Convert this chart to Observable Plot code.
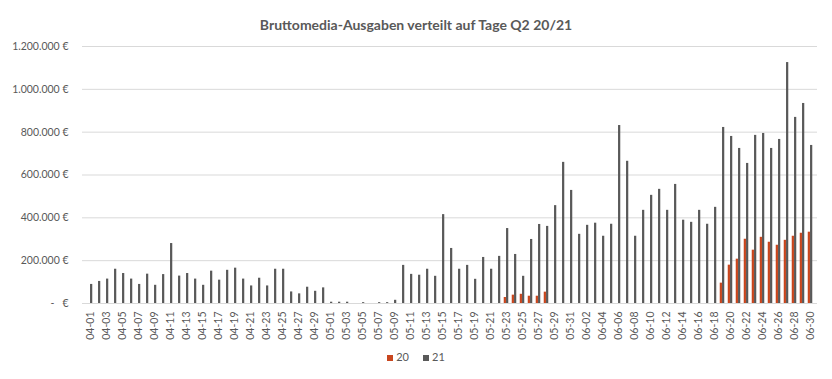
<!DOCTYPE html>
<html>
<head>
<meta charset="utf-8">
<script src="https://cdn.jsdelivr.net/npm/d3@7"></script>
<script src="https://cdn.jsdelivr.net/npm/@observablehq/plot@0.6"></script>
<style>
  body { margin: 0; background: #fff; font-family: Lato, "Open Sans", sans-serif; }
  #wrap { width: 832px; height: 379px; position: relative; overflow: hidden; }
  #title { height: 40px; line-height: 50px; text-align: center; font-weight: bold; font-size: 14px; color: #595959; }
  #legend { position: absolute; top: 350px; left: 0; width: 832px; text-align: center; font-size: 11px; color: #595959; }
  #legend span.sw { display: inline-block; width: 6px; height: 6px; margin-right: 3px; vertical-align: 0px; }
  #legend span.it { margin: 0 7px; }
</style>
</head>
<body>
<div id="wrap">
  <div id="title">Bruttomedia-Ausgaben verteilt auf Tage Q2 20/21</div>
  <div id="chart"></div>
  <div id="legend"></div>
</div>
<script>
const days = [];
for (const [m, n] of [["04", 30], ["05", 31], ["06", 30]]) {
  for (let d = 1; d <= n; d++) days.push(m + "-" + String(d).padStart(2, "0"));
}
const seriesNames = ["20", "21"];
const colors = ["#C8461E", "#595959"];

// 2021 values (April 1 .. June 30)
const values21 = [
  89000, 103000, 114000, 160000, 140000, 114000, 89000, 137000, 85000, 135000,
  280000, 128000, 140000, 114000, 85000, 151000, 109000, 155000, 165000, 114000,
  82000, 118000, 82000, 160000, 160000, 54000, 45000, 76000, 57000, 73000,
  6000, 6000, 6000, 0, 4000, 0, 4000, 4000, 15000, 178000,
  136000, 132000, 160000, 127000, 415000, 257000, 160000, 178000, 113000, 215000,
  160000, 220000, 350000, 229000, 127000, 299000, 369000, 360000, 457000, 659000,
  528000,
  323000, 365000, 375000, 314000, 370000, 831000, 664000, 314000, 435000, 505000,
  533000, 435000, 556000, 389000, 379000, 435000, 370000, 449000, 822000, 780000,
  724000, 654000, 785000, 794000, 724000, 766000, 1125000, 869000, 934000, 738000
];
// 2020 values (0 where no bar)
const values20 = days.map(() => 0);
const v20pairs = [
  ["05-23", 28000], ["05-24", 39000], ["05-25", 43000], ["05-26", 34000], ["05-27", 34000], ["05-28", 53000],
  ["06-19", 95000], ["06-20", 179000], ["06-21", 207000], ["06-22", 300000], ["06-23", 249000],
  ["06-24", 309000], ["06-25", 286000], ["06-26", 272000], ["06-27", 295000], ["06-28", 314000],
  ["06-29", 328000], ["06-30", 333000]
];
for (const [d, v] of v20pairs) values20[days.indexOf(d)] = v;

const yTicks = [0, 200000, 400000, 600000, 800000, 1000000, 1200000];
const xTickLabels = days.filter((d, i) => i % 2 === 0);

const data20 = days.map((d, i) => ({day: d, value: values20[i], series: "20"}));
const data21 = days.map((d, i) => ({day: d, value: values21[i], series: "21"}));

const fmt = v => v === 0 ? "-\u00a0\u00a0\u00a0€" : d3.format(",.0f")(v).replace(/,/g, ".") + " €";

const bw = 735 / 91;
const barW = 2.3;

const plot = Plot.plot({
  width: 832,
  height: 310,
  marginLeft: 82,
  marginRight: 15,
  marginTop: 6,
  marginBottom: 47,
  style: {fontFamily: "Lato, 'Open Sans', sans-serif", fontSize: "10.5px", color: "#595959", background: "#fff"},
  x: {type: "band", domain: days, padding: 0, label: null},
  y: {domain: [0, 1200000], label: null},
  marks: [
    Plot.ruleY(yTicks, {stroke: "#d9d9d9", strokeWidth: 1}),
    Plot.axisY({ticks: yTicks, tickFormat: fmt, tickSize: 0, tickPadding: 14, label: null, fill: "#595959"}),
    Plot.axisX({ticks: xTickLabels, tickSize: 0, tickPadding: 8, tickRotate: -90, label: null, fill: "#595959", fontSize: 10.5}),
    Plot.barY(data20, {x: "day", y: "value", fill: colors[0], insetLeft: bw / 2 - barW, insetRight: bw / 2}),
    Plot.barY(data21, {x: "day", y: "value", fill: colors[1], insetLeft: bw / 2, insetRight: bw / 2 - barW})
  ]
});
document.getElementById("chart").appendChild(plot);

const legend = document.getElementById("legend");
seriesNames.forEach((s, i) => {
  const it = document.createElement("span");
  it.className = "it";
  it.innerHTML = `<span class="sw" style="background:${colors[i]}"></span>${s}`;
  legend.appendChild(it);
});
</script>
</body>
</html>
